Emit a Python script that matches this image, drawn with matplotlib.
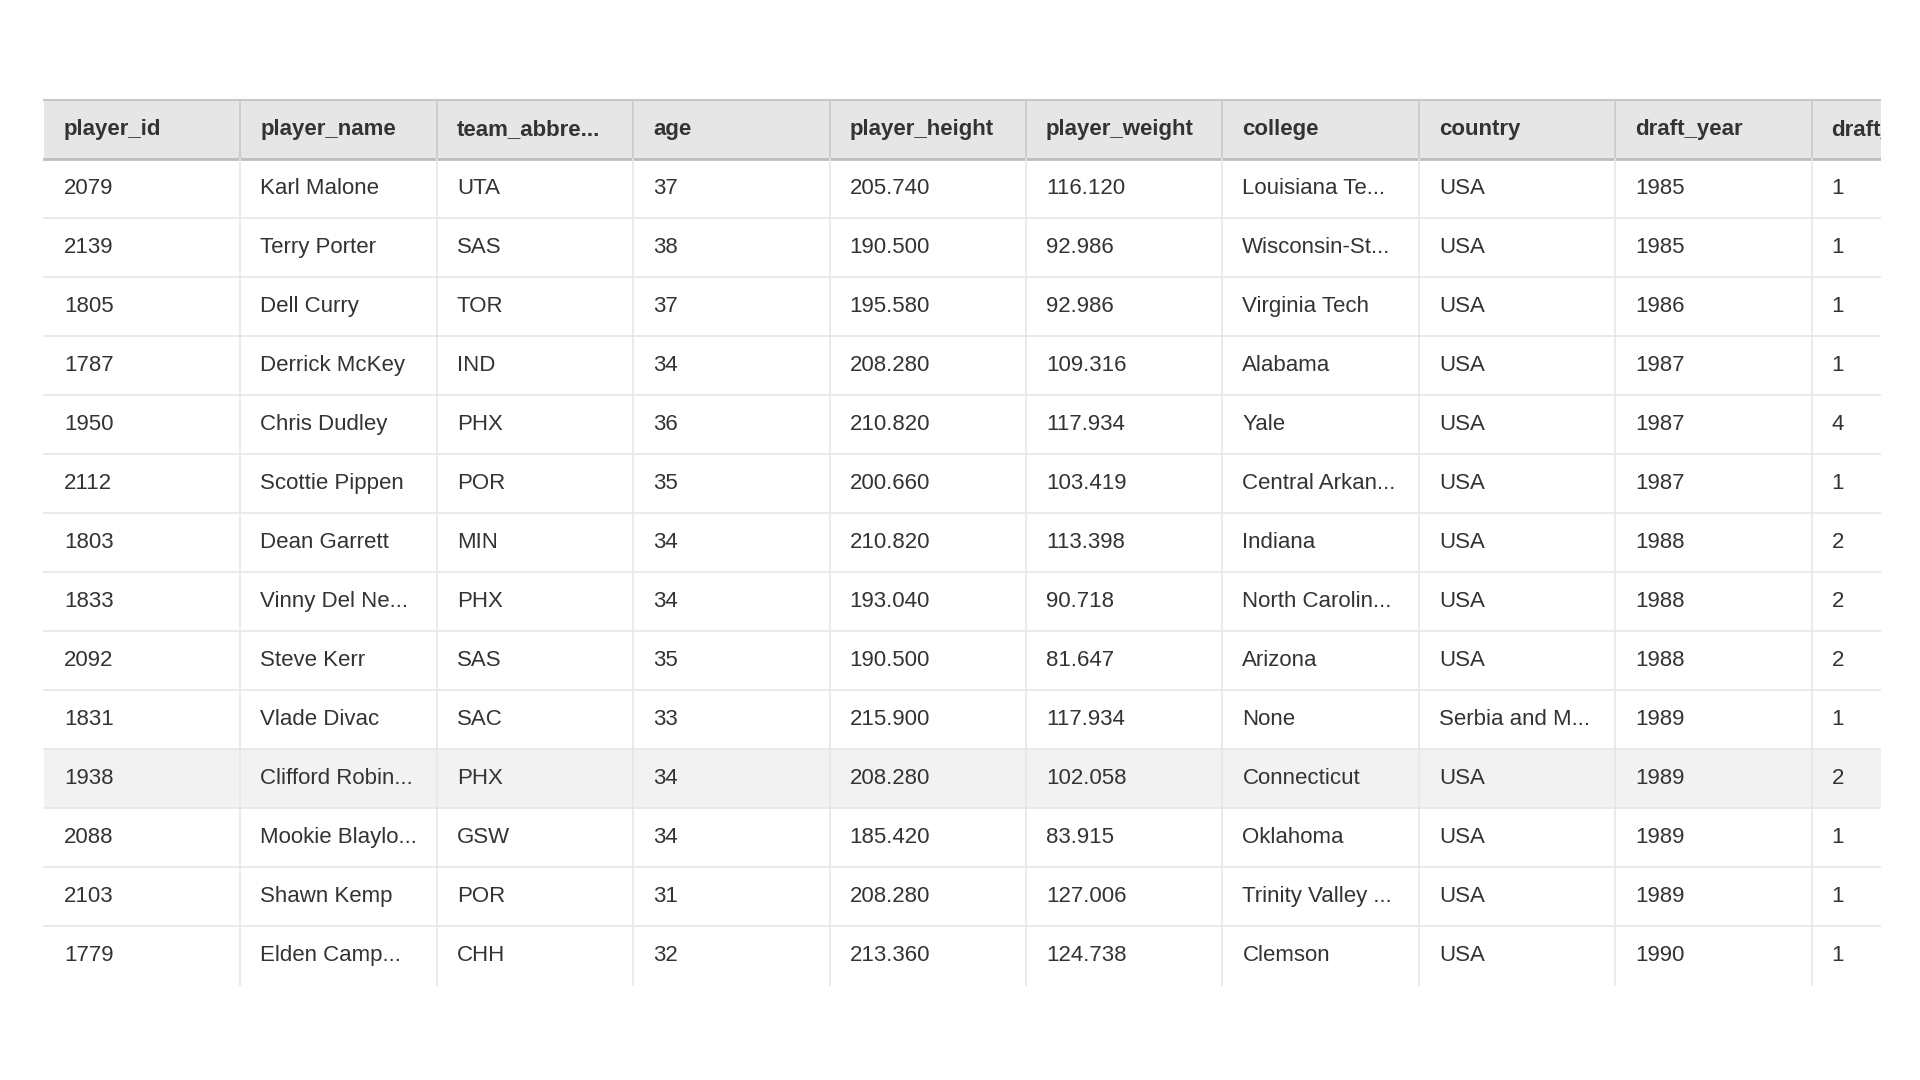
import matplotlib.pyplot as plt
from matplotlib.patches import Rectangle

columns = ['player_id', 'player_name', 'team_abbre...', 'age', 'player_height',
           'player_weight', 'college', 'country', 'draft_year', 'draft_round']
player_id = ['2079', '2139', '1805', '1787', '1950', '2112', '1803', '1833', '2092', '1831', '1938', '2088', '2103', '1779']
player_name = ['Karl Malone', 'Terry Porter', 'Dell Curry', 'Derrick McKey', 'Chris Dudley', 'Scottie Pippen',
               'Dean Garrett', 'Vinny Del Ne...', 'Steve Kerr', 'Vlade Divac', 'Clifford Robin...',
               'Mookie Blaylo...', 'Shawn Kemp', 'Elden Camp...']
team = ['UTA', 'SAS', 'TOR', 'IND', 'PHX', 'POR', 'MIN', 'PHX', 'SAS', 'SAC', 'PHX', 'GSW', 'POR', 'CHH']
age = ['37', '38', '37', '34', '36', '35', '34', '34', '35', '33', '34', '34', '31', '32']
height = ['205.740', '190.500', '195.580', '208.280', '210.820', '200.660', '210.820', '193.040',
          '190.500', '215.900', '208.280', '185.420', '208.280', '213.360']
weight = ['116.120', '92.986', '92.986', '109.316', '117.934', '103.419', '113.398', '90.718',
          '81.647', '117.934', '102.058', '83.915', '127.006', '124.738']
college = ['Louisiana Te...', 'Wisconsin-St...', 'Virginia Tech', 'Alabama', 'Yale', 'Central Arkan...',
           'Indiana', 'North Carolin...', 'Arizona', 'None', 'Connecticut', 'Oklahoma', 'Trinity Valley ...', 'Clemson']
country = ['USA'] * 9 + ['Serbia and M...'] + ['USA'] * 4
draft_year = ['1985', '1985', '1986', '1987', '1987', '1987', '1988', '1988', '1988', '1989', '1989', '1989', '1989', '1990']
draft_round = ['1', '1', '1', '1', '4', '1', '2', '2', '2', '1', '2', '1', '1', '1']
highlight_row = 10

data = [player_id, player_name, team, age, height, weight, college, country, draft_year, draft_round]

FONT = 'Liberation Sans'
left, right = 44, 1881
col_w = 196.4
top, head_h, row_h = 100, 59, 59

fig = plt.figure(figsize=(19.2, 10.8), dpi=100)
ax = fig.add_axes([0, 0, right / 1920, 1])
ax.set_xlim(0, right)
ax.set_ylim(1080, 0)
ax.axis('off')

nrows = len(player_id)
bottom = top + head_h + nrows * row_h

# header
ax.add_patch(Rectangle((left, top), right - left, head_h, facecolor='#e6e6e6', edgecolor='none'))
ax.plot([left, right], [top, top], color='#c8c8c8', lw=1.5)
ax.plot([left, right], [top + head_h, top + head_h], color='#bdbdbd', lw=2)

# highlighted row
y_h = top + head_h + highlight_row * row_h
ax.add_patch(Rectangle((left, y_h), right - left, row_h, facecolor='#f2f2f2', edgecolor='none'))

# row separators
for r in range(1, nrows):
    y = top + head_h + r * row_h
    ax.plot([left, right], [y, y], color='#e6e6e6', lw=1.2)

# vertical lines
for c in range(1, len(columns)):
    x = left + c * col_w
    ax.plot([x, x], [top, top + head_h], color='#c8c8c8', lw=1.2)
    ax.plot([x, x], [top + head_h, bottom], color='#e6e6e6', lw=1.2)

for c, name in enumerate(columns):
    x = left + c * col_w + 20
    ax.text(x, top + head_h / 2, name, fontsize=16, fontweight='bold', family=FONT,
            color='#333333', va='center', ha='left', clip_on=True)
    for r, val in enumerate(data[c]):
        y = top + head_h + r * row_h + row_h / 2
        ax.text(x, y, val, fontsize=16, family=FONT, color='#333333',
                va='center', ha='left', clip_on=True)

fig.savefig('out.png', dpi=100)
